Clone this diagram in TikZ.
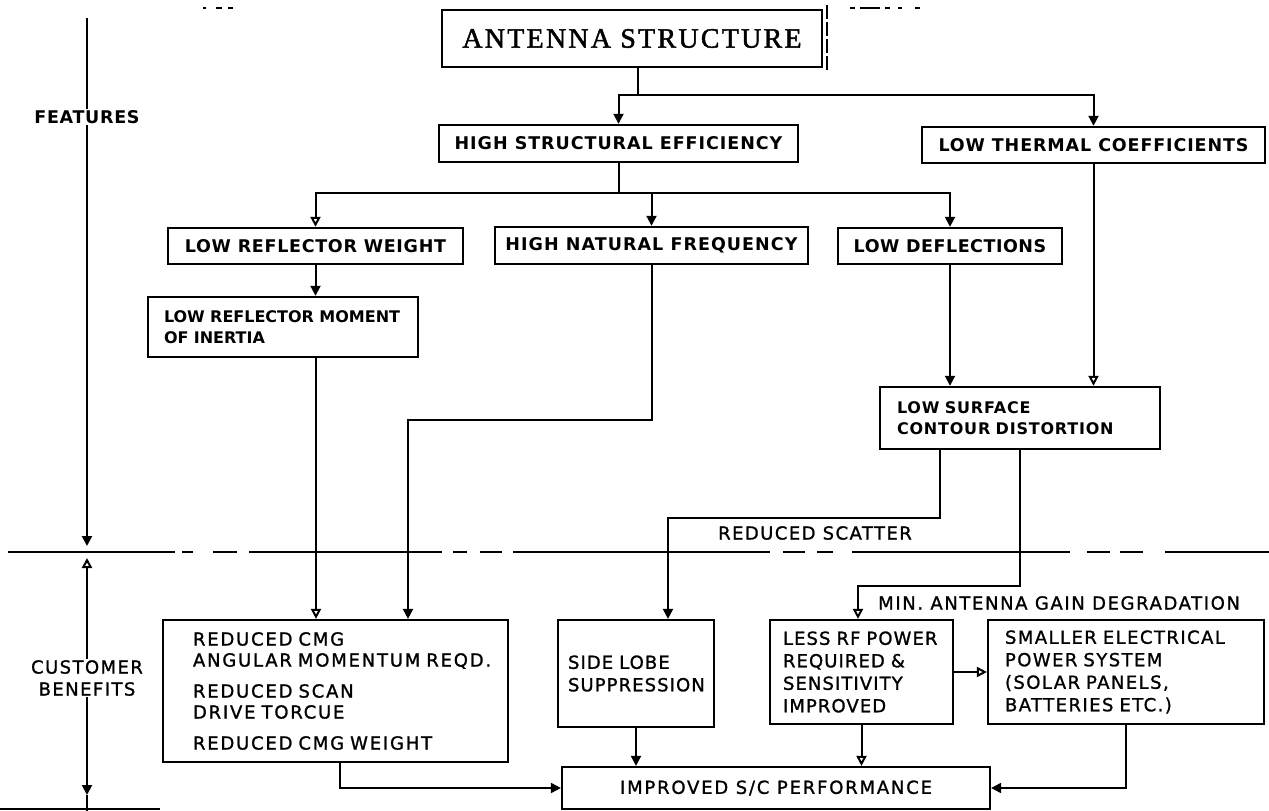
\documentclass[tikz,border=0pt]{standalone}
\usepackage{fontspec}
\setmainfont{DejaVu Sans}
\newfontfamily\upf{DejaVu Sans}
\newfontfamily\lof{DejaVu Sans}[FakeBold=1.2]
\newfontfamily\antf{Liberation Serif}[FakeBold=1.6]
\usetikzlibrary{arrows.meta}
\newcommand\txl[1]{\mbox{#1}}
\tikzset{
  upbox/.style={draw, line width=2.4pt, inner sep=0pt, font=\upf\bfseries\fontsize{17.5}{21}\selectfont\addfontfeature{LetterSpace=#1}},
  upml/.style={draw, line width=2.4pt, align=left, inner ysep=0pt, font=\upf\bfseries\fontsize{16}{21}\selectfont\addfontfeature{LetterSpace=#1}},
  lobox/.style={draw, line width=2.2pt, align=left, inner ysep=0pt, font=\lof\fontsize{18}{22.5}\selectfont\addfontfeature{LetterSpace=#1}},
  upl/.style={inner sep=1pt, font=\upf\bfseries\fontsize{17.5}{21}\selectfont\addfontfeature{LetterSpace=4}},
  lol/.style={inner sep=1pt, font=\lof\fontsize{18}{22}\selectfont\addfontfeature{LetterSpace=#1}},
  con/.style={line width=2pt},
  arr/.style={con, -{Triangle[width=10pt,length=10pt]}},
  arro/.style={con, -{Triangle[open,width=10pt,length=10pt]}},
}
\begin{document}
\begin{tikzpicture}[x=1pt,y=-1pt]
\useasboundingbox (0,0) rectangle (1269,811);
% boxes
\node[draw, line width=2.6pt, minimum width=380, minimum height=57, inner sep=0pt, font=\antf\fontsize{28}{30}\selectfont\addfontfeature{LetterSpace=8}] (ant) at (632,38.5) {ANTENNA STRUCTURE};
\node[upbox=5.5, minimum width=359, minimum height=37] (hse) at (618.5,143.5) {HIGH STRUCTURAL EFFICIENCY};
\node[upbox=5, minimum width=343, minimum height=36] (ltc) at (1093.5,145) {LOW THERMAL COEFFICIENTS};
\node[upbox=4, minimum width=295, minimum height=36] (lrw) at (315.5,246) {LOW REFLECTOR WEIGHT};
\node[upbox=6, minimum width=313, minimum height=37] (hnf) at (651.5,245.5) {HIGH NATURAL FREQUENCY};
\node[upbox=3, minimum width=224, minimum height=36] (ld) at (950,246) {LOW DEFLECTIONS};
\node[upml=0, inner xsep=16pt, text width=238, minimum height=60] (lrmi) at (283,327) {\txl{LOW REFLECTOR MOMENT}\\\txl{OF INERTIA}};
\node[upml=5, inner xsep=17pt, text width=246, minimum height=62] (lscd) at (1020,418) {\txl{LOW SURFACE}\\\txl{CONTOUR DISTORTION}};
\node[lobox=10, inner xsep=30pt, text width=285, minimum height=142, font=\lof\fontsize{18}{21}\selectfont\addfontfeature{LetterSpace=10}] (cmg) at (335.5,691) {\txl{REDUCED CMG}\\\txl{ANGULAR MOMENTUM REQD.}\\[10pt]\txl{REDUCED SCAN}\\\txl{DRIVE TORCUE}\\[10pt]\txl{REDUCED CMG WEIGHT}};
\node[lobox=6, inner xsep=10pt, text width=136, minimum height=107] (slb) at (636,673.5) {\txl{SIDE LOBE}\\\txl{SUPPRESSION}};
\node[lobox=6, inner xsep=13pt, text width=157, minimum height=104] (lrf) at (861.5,672) {\txl{LESS RF POWER}\\\txl{REQUIRED \&}\\\txl{SENSITIVITY}\\\txl{IMPROVED}};
\node[lobox=8, inner xsep=17pt, text width=242, minimum height=104] (sep) at (1126,672) {\txl{SMALLER ELECTRICAL}\\\txl{POWER SYSTEM}\\\txl{(SOLAR PANELS,}\\\txl{BATTERIES ETC.)}};
\node[lobox=10, align=center, inner sep=0pt, minimum width=428, minimum height=42] (isc) at (776,788) {IMPROVED S/C PERFORMANCE};
% side labels
\node[upl] (feat) at (87,117) {FEATURES};
\node[lol=8, align=center] (cust) at (87,678) {CUSTOMER\\BENEFITS};
\coordinate (ftop) at (87,18);
\coordinate (fbot) at (87,546);
\coordinate (cup) at (87,558);
\coordinate (cdn) at (87,795);
\coordinate (cend) at (87,811);
\draw[con] (feat.north) -- (ftop);
\draw[arr] (feat.south) -- (fbot);
\draw[arro] (cust.north) -- (cup);
\draw[arr] (cust.south) -- (cdn);
\draw[con] (cdn) -- (cend);
\coordinate (bl1) at (0,809);
\coordinate (bl2) at (160,809);
\draw[con] (bl1) -- (bl2);
% dashed separator
\foreach \a/\b in {8/175,182/193,213/237,249/442,453/467,480/502,513/770,783/805,817/833,852/1070,1087/1110,1120/1143,1165/1269}
  \draw[con] (\a,552) -- (\b,552);
% scan marks
\coordinate (vm1) at (827,5);
\coordinate (vm2) at (827,73);
\draw[line width=1.2pt, dash pattern=on 14pt off 3pt] (vm1) -- (vm2);
\foreach \a/\b in {203/206,216/222,228/233,850/855,860/880,885/890,898/902,915/920}
  \draw[line width=1.2pt] (\a,8) -- (\b,8);
% connectors
\coordinate (j1) at (638,95);
\draw[con] (ant.south -| j1) -- (j1);
\draw[arr] (j1) -| (hse.north);
\draw[arr] (j1) -| (ltc.north);
\coordinate (j2) at (618.5,193);
\draw[con] (hse.south) -- (j2);
\draw[arro] (j2) -| (lrw.north);
\draw[arr] (j2) -| (hnf.north);
\draw[arr] (j2) -| (ld.north);
\draw[arr] (lrw.south) -- (lrw.south |- lrmi.north);
\coordinate (c1) at (316,0);
\draw[arro] (lrmi.south -| c1) -- (cmg.north -| c1);
\coordinate (k1) at (408,420);
\draw[arr] (hnf.south) |- (k1) -- (k1 |- cmg.north);
\draw[arr] (ld.south) -- (ld.south |- lscd.north);
\draw[arro] (ltc.south) -- (ltc.south |- lscd.north);
\coordinate (k2) at (940,518);
\coordinate (k3) at (668,518);
\draw[arr] (lscd.south -| k2) -- (k2) -- (k3) -- (k3 |- slb.north);
\node[lol=8] (rs) at (815,533) {REDUCED SCATTER};
\coordinate (k5) at (858,586);
\draw[arro] (lscd.south) |- (k5) -- (k5 |- lrf.north);
\node[lol=9, anchor=west] (mag) at (877,603) {MIN. ANTENNA GAIN DEGRADATION};
\draw[arro] (lrf.east) -- (sep.west);
\draw[arr] (slb.south) -- (slb.south |- isc.north);
\draw[arro] (lrf.south) -- (lrf.south |- isc.north);
\coordinate (k6) at (340,0);
\draw[arr] (cmg.south -| k6) |- (isc.west);
\draw[arr] (sep.south) |- (isc.east);
\end{tikzpicture}
\end{document}
